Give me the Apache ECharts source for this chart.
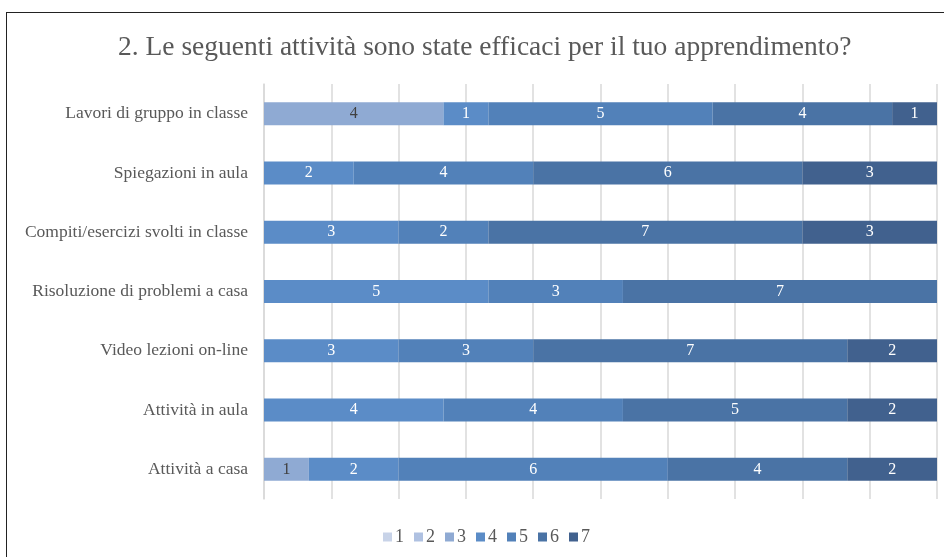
<!DOCTYPE html>
<html>
<head>
<meta charset="utf-8">
<script src="https://cdn.jsdelivr.net/npm/echarts@6/dist/echarts.min.js"></script>
<style>
  html, body { margin: 0; padding: 0; background: #fff; }
  #frame { position: absolute; left: 6px; top: 12px; width: 944px; height: 560px;
           border-left: 1.5px solid #222; border-top: 1.5px solid #222; }
  #main { position: absolute; left: 0; top: 0; width: 944px; height: 557px; }
</style>
</head>
<body>
<div id="frame"></div>
<div id="main"></div>
<script>
  // attività (dall'alto verso il basso)
  var categories = ['Lavori di gruppo in classe', 'Spiegazioni in aula', 'Compiti/esercizi svolti in classe',
    'Risoluzione di problemi a casa', 'Video lezioni on-line', 'Attività in aula', 'Attività a casa']
  var seriesNames = ['1', '2', '3', '4', '5', '6', '7']
  // risposte per punteggio
  var s1 = [null, null, null, null, null, null, null]
  var s2 = [null, null, null, null, null, null, null]
  var s3 = [4, null, null, null, null, null, 1]
  var s4 = [1, 2, 3, 5, 3, 4, 2]
  var s5 = [5, 4, 2, 3, 3, 4, 6]
  var s6 = [4, 6, 7, 7, 7, 5, 4]
  var s7 = [1, 3, 3, null, 2, 2, 2]
  var colors = ['#C8D3E8', '#AFC1E1', '#8FAAD3', '#5B8CC7', '#5281B9', '#4A73A5', '#41618E']

  var serif = '"Liberation Serif", "DejaVu Serif", serif'
  var allData = [s1, s2, s3, s4, s5, s6, s7]

  var myChart = echarts.init(document.getElementById('main'))
  var series = allData.map(function (d, i) {
    return {
      name: seriesNames[i],
      type: 'bar',
      stack: 'tot',
      data: d,
      barWidth: 23,
      itemStyle: { color: colors[i] },
      label: {
        show: true,
        position: 'inside',
        fontFamily: serif,
        fontSize: 16,
        color: i < 3 ? '#404040' : '#ffffff'
      }
    }
  })

  var option = {
    animation: false,
    title: {
      text: '2. Le seguenti attività sono state efficaci per il tuo apprendimento?',
      left: 113,
      top: 29,
      textStyle: { fontFamily: serif, fontSize: 27.5, fontWeight: 'normal', color: '#595959' }
    },
    grid: { left: 264, right: 7, top: 84, bottom: 58 },
    xAxis: {
      type: 'value',
      min: 0,
      max: 15,
      interval: 1.5,
      axisLabel: { show: false },
      axisLine: { show: false },
      axisTick: { show: false },
      splitLine: { lineStyle: { color: '#D9D9D9', width: 1.5 } }
    },
    yAxis: {
      type: 'category',
      inverse: true,
      data: categories,
      axisTick: { show: false },
      axisLine: { lineStyle: { color: '#D9D9D9', width: 1.5 } },
      axisLabel: { fontFamily: serif, fontSize: 17.5, color: '#595959', margin: 16 }
    },
    legend: {
      bottom: 6,
      left: 378,
      itemWidth: 9,
      itemHeight: 9,
      itemGap: 10,
      icon: 'rect',
      textStyle: { fontFamily: serif, fontSize: 18, color: '#595959', padding: [0, 0, 0, -2] },
      data: seriesNames
    },
    series: series
  }
  myChart.setOption(option)
</script>
</body>
</html>
